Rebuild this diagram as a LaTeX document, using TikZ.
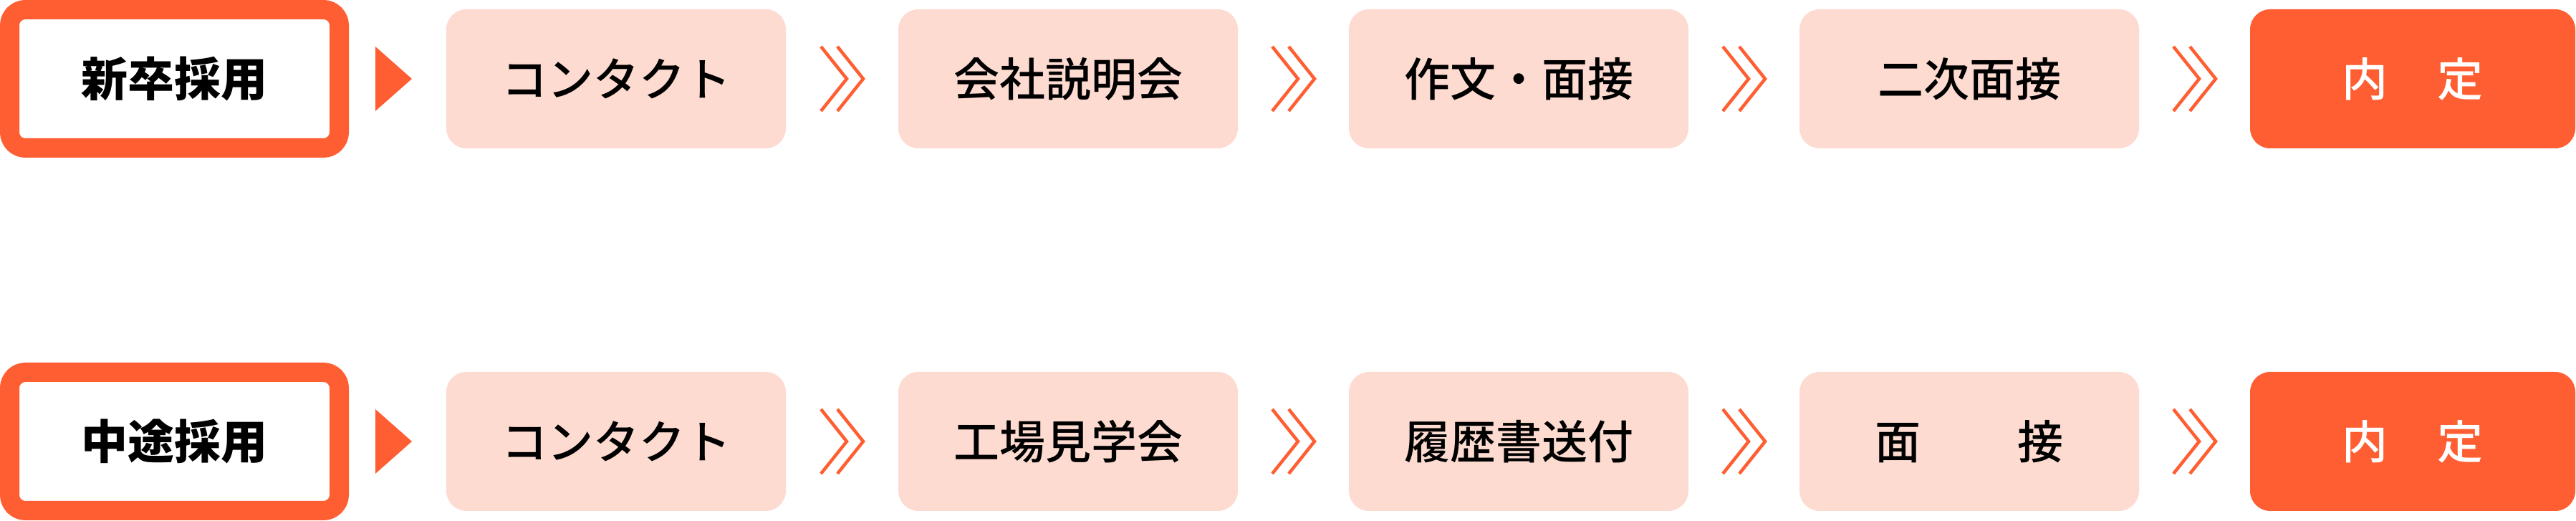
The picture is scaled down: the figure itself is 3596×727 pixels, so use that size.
\documentclass[tikz,border=0pt]{standalone}
\usepackage{fontspec}
\setmainfont{Noto Sans CJK JP}
\newfontfamily\jpmed{Noto Sans CJK JP Medium}
\usetikzlibrary{calc}
\definecolor{orng}{HTML}{FF5E32}
\definecolor{pnk}{HTML}{FDDBD0}
\begin{document}
\begin{tikzpicture}[x=1pt,y=1pt,
  stepbox/.style={fill=pnk, rounded corners=28pt, minimum width=474pt, minimum height=194pt,
    inner sep=0pt, text=black, font=\jpmed\fontsize{64pt}{64pt}\selectfont},
  finalbox/.style={stepbox, fill=orng, text=white, minimum width=454pt},
  labelbox/.style={draw=orng, line width=27pt, fill=white, rounded corners=22pt,
    minimum width=460pt, minimum height=193pt, inner sep=0pt, text=black,
    font=\bfseries\fontsize{65pt}{65pt}\selectfont},
  chev/.style={draw=orng, line width=4.5pt, line join=miter},
  tri/.style={fill=orng}
]
\useasboundingbox (0,0) rectangle (3596,727);

% row 1
\node[labelbox] (l1) at (243.5,617) {新卒採用};
\node[stepbox] (a1) at (860,617) {コンタクト};
\node[stepbox] (a2) at (1491,617) {会社説明会};
\node[stepbox] (a3) at (2120,617) {作文・面接};
\node[stepbox] (a4) at (2749,617) {二次面接};
\node[finalbox] (a5) at (3368,617) {内\hspace*{70pt}定};

% row 2
\node[labelbox] (l2) at (243.5,111) {中途採用};
\node[stepbox] (b1) at (860,111) {コンタクト};
\node[stepbox] (b2) at (1491,111) {工場見学会};
\node[stepbox] (b3) at (2120,111) {履歴書送付};
\node[stepbox] (b4) at (2749,111) {面\hspace*{135pt}接};
\node[finalbox] (b5) at (3368,111) {内\hspace*{70pt}定};

% triangles
\foreach \l in {l1,l2}{
  \fill[tri] ($(\l.east)+(37,45)$) -- ($(\l.east)+(88,0)$) -- ($(\l.east)+(37,-45)$) -- cycle;
}

% double chevrons
\foreach \p/\q in {a1/a2,a2/a3,a3/a4,a4/a5,b1/b2,b2/b3,b3/b4,b4/b5}{
  \coordinate (m) at ($(\p.east)!0.5!(\q.west)$);
  \draw[chev] ($(m)+(-29.5,45)$) -- ++(36,-45) -- ++(-36,-45);
  \draw[chev] ($(m)+(-6.5,45)$) -- ++(36,-45) -- ++(-36,-45);
}
\end{tikzpicture}
\end{document}
